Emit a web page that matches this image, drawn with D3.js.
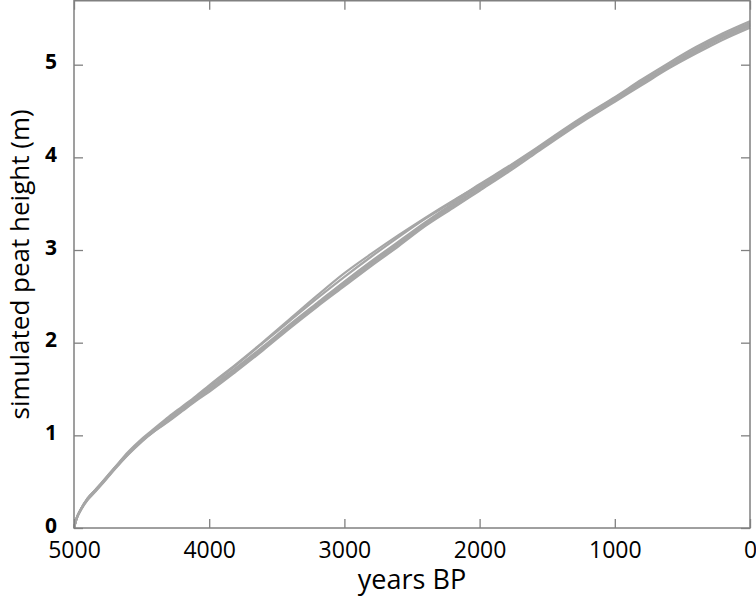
<!DOCTYPE html>
<html><head><meta charset="utf-8">
<script src="https://cdn.jsdelivr.net/npm/d3@7"></script>
<style>body{margin:0;background:#fff}svg{display:block}</style>
</head><body>
<script>
const years = [5000,4980,4950,4900,4850,4800,4700,4600,4500,4400,4300,4200,4100,4000,3800,3600,3400,3200,3000,2800,2600,2400,2200,2000,1800,1600,1400,1200,1000,800,600,400,200,0];
const runA = [0,0.11,0.20,0.31,0.39,0.47,0.64,0.80,0.94,1.06,1.17,1.28,1.39,1.50,1.72,1.95,2.19,2.42,2.65,2.87,3.08,3.29,3.48,3.67,3.86,4.06,4.26,4.45,4.63,4.81,4.99,5.15,5.30,5.43];
const runB = [0,0.11,0.20,0.32,0.40,0.48,0.65,0.81,0.95,1.07,1.19,1.30,1.41,1.53,1.76,2.00,2.24,2.48,2.71,2.93,3.14,3.34,3.52,3.71,3.89,4.08,4.28,4.47,4.65,4.84,5.02,5.19,5.34,5.47];
const runC = [0,0.10,0.19,0.30,0.38,0.46,0.63,0.79,0.93,1.05,1.15,1.26,1.37,1.47,1.69,1.92,2.16,2.39,2.61,2.83,3.04,3.26,3.45,3.64,3.83,4.03,4.23,4.42,4.60,4.78,4.96,5.12,5.27,5.40];
const runD = [0,0.11,0.20,0.32,0.40,0.48,0.65,0.82,0.96,1.08,1.20,1.31,1.42,1.54,1.77,2.01,2.26,2.51,2.75,2.96,3.16,3.35,3.53,3.70,3.88,4.07,4.27,4.46,4.64,4.82,5.00,5.17,5.32,5.45];
const runE = [0,0.11,0.20,0.31,0.39,0.47,0.64,0.80,0.94,1.05,1.16,1.27,1.38,1.49,1.71,1.94,2.18,2.41,2.63,2.85,3.06,3.28,3.47,3.66,3.85,4.05,4.25,4.44,4.62,4.80,4.98,5.14,5.29,5.42];
const runF = [0,0.10,0.20,0.31,0.39,0.47,0.64,0.80,0.94,1.06,1.18,1.29,1.40,1.51,1.73,1.96,2.20,2.43,2.66,2.88,3.09,3.30,3.50,3.69,3.87,4.06,4.25,4.44,4.62,4.80,4.98,5.15,5.31,5.44];
const runs = [runA, runB, runC, runD, runE, runF];
const xTicks = [5000,4000,3000,2000,1000,0];
const yTicks = [0,1,2,3,4,5];

const W = 756, H = 601;
const L = 74, R = 750, T = 0.75, B = 528;
const x = d3.scaleLinear().domain([5000, 0]).range([L, R]);
const y = d3.scaleLinear().domain([0, 5.69]).range([B, T]);

const svg = d3.select("body").append("svg").attr("width", W).attr("height", H);
const font = "'Open Sans', sans-serif";

const line = d3.line().x((d, i) => x(years[i])).y(d => y(d)).curve(d3.curveMonotoneX);
svg.append("g").selectAll("path").data(runs).join("path")
  .attr("d", line).attr("fill", "none").attr("stroke", "#a6a6a6").attr("stroke-width", 2.2);

const axCol = "#808080";
const tl = 9;
const gx = svg.append("g").attr("transform", `translate(0,${B})`).call(d3.axisBottom(x).tickValues(xTicks).tickSize(-tl).tickPadding(14).tickFormat(d3.format("d")));
const gxt = svg.append("g").attr("transform", `translate(0,${T})`).call(d3.axisTop(x).tickValues(xTicks).tickSize(-tl).tickFormat(""));
const gy = svg.append("g").attr("transform", `translate(${L},0)`).call(d3.axisLeft(y).tickValues(yTicks).tickSize(-tl).tickPadding(17).tickFormat(d3.format("d")));
const gyr = svg.append("g").attr("transform", `translate(${R},0)`).call(d3.axisRight(y).tickValues(yTicks).tickSize(-tl).tickFormat(""));
[gx, gxt, gy, gyr].forEach(g => {
  g.select(".domain").remove();
  g.selectAll(".tick line").attr("stroke", axCol).attr("stroke-width", 1.3);
});
gx.selectAll(".tick text").attr("font-family", font).attr("font-size", 23).attr("fill", "#000");
gy.selectAll(".tick text").attr("font-family", font).attr("font-size", 21).attr("font-weight", "bold").attr("fill", "#000").attr("dy", "0.2em");
svg.append("rect").attr("x", L).attr("y", T).attr("width", R - L).attr("height", B - T)
  .attr("fill", "none").attr("stroke", axCol).attr("stroke-width", 1.5);

svg.append("text").attr("x", (L + R) / 2).attr("y", 589).attr("text-anchor", "middle")
  .attr("font-family", font).attr("font-size", 27).attr("fill", "#000").text("years BP");
svg.append("text").attr("transform", `translate(29,${(T + B) / 2}) rotate(-90)`).attr("text-anchor", "middle")
  .attr("font-family", font).attr("font-size", 26).attr("fill", "#000").text("simulated peat height (m)");
</script>
</body></html>
